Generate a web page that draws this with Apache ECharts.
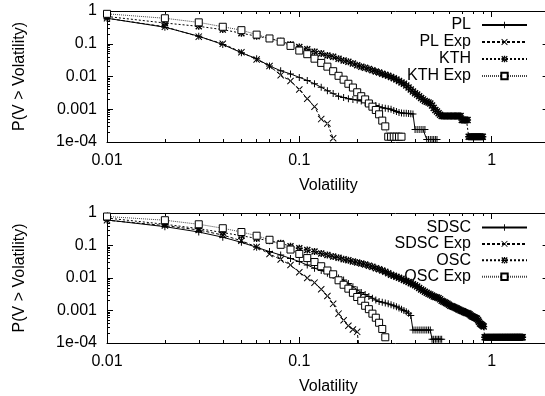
<!DOCTYPE html>
<html><head><meta charset="utf-8">
<script src="https://cdn.jsdelivr.net/npm/echarts@6/dist/echarts.min.js"></script>
<style>html,body{margin:0;padding:0;background:#fff;overflow:hidden;width:545px;height:396px}#c{width:700px;height:396px}</style>
</head><body><div id="c"></div><script>
// ---- data: P(V > volatility) sampled every 0.01 of volatility, starting at 0.01 ----
const STEP = 0.01;
const yTickLabels = ['1e-04', '0.001', '0.01', '0.1', '1'];   // decades 1e-4 .. 1
const xTickLabels = ['0.01', '0.1', '1'];                     // decades 0.01 .. 1
const topNames = ['PL', 'PL Exp', 'KTH', 'KTH Exp'];
const bottomNames = ['SDSC', 'SDSC Exp', 'OSC', 'OSC Exp'];

const plValues = [0.60, 0.32, 0.17, 0.095, 0.053, 0.035, 0.021, 0.015, 0.012, 0.0094,
  0.0076, 0.006, 0.0047, 0.0037, 0.0030, 0.0025, 0.0023, 0.0021, 0.0020, 0.0019,
  0.0018, 0.0016, 0.0015, 0.0014, 0.0013, 0.0012, 0.00112, 0.00108, 0.00104, 0.0010,
  0.00092, 0.00085, 0.0008, 0.00077, 0.00075, 0.00075, 0.00074, 0.00073, 0.00072, 0.00024,
  0.00024, 0.00024, 0.00024, 0.00024, 0.00024, 0.00012, 0.00012, 0.00012, 0.00012, 0.00012,
  0.00012, 0.00012];
const plExpValues = [0.60, 0.33, 0.165, 0.10, 0.055, 0.033, 0.021, 0.011, 0.0073, 0.004,
  0.0021, 0.0012, 0.0005, 0.00037, 0.00013];
const kthValues = [0.68, 0.43, 0.34, 0.27, 0.21, 0.17, 0.145, 0.12, 0.095, 0.08,
  0.068, 0.057, 0.05, 0.044, 0.04, 0.035, 0.031, 0.028, 0.025, 0.022,
  0.020, 0.0185, 0.017, 0.0155, 0.0143, 0.0132, 0.0122, 0.0113, 0.0105, 0.0097,
  0.0089, 0.0081, 0.0073, 0.0066, 0.006, 0.0053, 0.0046, 0.004, 0.0035, 0.0031,
  0.0028, 0.0025, 0.0022, 0.002, 0.0018, 0.0017, 0.0016, 0.0015, 0.0013, 0.0011,
  0.00095, 0.00085, 0.00075, 0.00068, 0.00062, 0.00062, 0.00062, 0.00062, 0.00062, 0.00062,
  0.00062, 0.00062, 0.00062, 0.00062, 0.00062, 0.00062, 0.00062, 0.00062, 0.00062, 0.00047,
  0.00047, 0.00047, 0.00047, 0.00047, 0.00047, 0.000145, 0.000145, 0.000145, 0.000145, 0.000145,
  0.000145, 0.000145, 0.000145, 0.000145, 0.000145, 0.000145, 0.000145, 0.000145, 0.000145, 0.000145];
const kthExpValues = [0.82, 0.60, 0.45, 0.33, 0.26, 0.19, 0.145, 0.116, 0.086, 0.062,
  0.048, 0.035, 0.026, 0.020, 0.0145, 0.0105, 0.008, 0.006, 0.0046, 0.0033,
  0.0025, 0.002, 0.0015, 0.0012, 0.00095, 0.0007, 0.00045, 0.0003, 0.000145, 0.000145,
  0.000145, 0.000145, 0.000145, 0.000145];

const sdscValues = [0.61, 0.38, 0.26, 0.18, 0.125, 0.088, 0.065, 0.051, 0.040, 0.032,
  0.025, 0.020, 0.017, 0.014, 0.012, 0.010, 0.0087, 0.0068, 0.0054, 0.0043,
  0.0036, 0.0031, 0.0027, 0.0024, 0.0021, 0.0019, 0.0018, 0.0017, 0.0016, 0.0015,
  0.0014, 0.0013, 0.0012, 0.0011, 0.001, 0.00092, 0.00082, 0.0007, 0.00025, 0.00025,
  0.00025, 0.00025, 0.00025, 0.00025, 0.00025, 0.00025, 0.00025, 0.00025, 0.00013, 0.00013,
  0.00013, 0.00013, 0.00013, 0.00013, 0.00013];
const sdscExpValues = [0.60, 0.41, 0.30, 0.21, 0.14, 0.09, 0.055, 0.037, 0.025, 0.015,
  0.010, 0.0072, 0.0045, 0.0028, 0.0016, 0.0008, 0.0005, 0.00034, 0.00026, 0.00022,
  0.00002];
const oscValues = [0.70, 0.45, 0.33, 0.25, 0.20, 0.165, 0.14, 0.117, 0.095, 0.082,
  0.073, 0.065, 0.057, 0.051, 0.046, 0.042, 0.038, 0.035, 0.032, 0.030,
  0.028, 0.026, 0.024, 0.022, 0.020, 0.0185, 0.017, 0.0155, 0.014, 0.0125,
  0.0118, 0.011, 0.0102, 0.0094, 0.0087, 0.0081, 0.0075, 0.0069, 0.0064, 0.006,
  0.0055, 0.0049, 0.0044, 0.0041, 0.0038, 0.0035, 0.0033, 0.0031, 0.0029, 0.0027,
  0.0026, 0.0025, 0.0024, 0.0022, 0.002, 0.0019, 0.0018, 0.0017, 0.0016, 0.0015,
  0.0014, 0.00135, 0.0013, 0.00125, 0.0012, 0.00115, 0.0011, 0.00105, 0.001, 0.00097,
  0.00094, 0.0009, 0.00087, 0.00084, 0.00082, 0.0008, 0.00075, 0.0007, 0.00066, 0.00064,
  0.00062, 0.0006, 0.00058, 0.00056, 0.0005, 0.00045, 0.0004, 0.00038, 0.00036, 0.00034,
  0.00032, 0.00015, 0.00015, 0.00015, 0.00015, 0.00015, 0.00015, 0.00015, 0.00015, 0.00015,
  0.00015, 0.00015, 0.00015, 0.00015, 0.00015, 0.00015, 0.00015, 0.00015, 0.00015, 0.00015,
  0.00015, 0.00015, 0.00015, 0.00015, 0.00015, 0.00015, 0.00015, 0.00015, 0.00015, 0.00015,
  0.00015, 0.00015, 0.00015, 0.00015, 0.00015, 0.00015, 0.00015, 0.00015, 0.00015, 0.00015,
  0.00015, 0.00015, 0.00015, 0.00015, 0.00015, 0.00015, 0.00015, 0.00015, 0.00015, 0.00015,
  0.00015, 0.00015, 0.00015, 0.00015, 0.00015];
const oscExpValues = [0.78, 0.60, 0.45, 0.34, 0.26, 0.20, 0.15, 0.105, 0.075, 0.055,
  0.041, 0.031, 0.023, 0.017, 0.013, 0.0085, 0.0062, 0.0047, 0.0035, 0.0026,
  0.002, 0.0014, 0.0011, 0.0008, 0.0006, 0.00042, 0.00027, 0.00015];

// ---- presentation ----
const FONT = '"Liberation Sans", Arial, Helvetica, sans-serif';
const PLUS = 'path://M0,4.3H10V5.7H0Z M4.3,0H5.7V10H4.3Z';
const CROSS = 'path://M0,1L1,0L10,9L9,10Z M10,1L9,0L0,9L1,10Z';
const STAR = 'path://M0,4H10V6H0Z M4,0H6V10H4Z M0,1.4L1.4,0L10,8.6L8.6,10Z M10,1.4L8.6,0L0,8.6L1.4,10Z';
const GRID_W = 576.9;          // plot box continues past the window's right edge
const RIGHT_BORDER_SHIFT = -134.3;

function toPoints(values) {
  return values.map((p, i) => [Number(((i + 1) * STEP).toFixed(2)), p]);
}
function decadeLabel(v, labels, minExp) {
  const l = Math.log10(v), e = Math.round(l);
  if (Math.abs(l - e) > 1e-6) return '';
  return labels[e - minExp] || '';
}
const txt = { fontSize: 16, color: '#000', fontFamily: FONT };
const tickLine = { color: '#000', width: 1 };

function xAxes(g) {
  const base = {
    type: 'log', logBase: 10, gridIndex: g, min: 0.01, max: 10,
    axisLine: { show: true, lineStyle: tickLine },
    axisTick: { show: true, inside: true, length: 6, lineStyle: tickLine },
    minorTick: { show: true, splitNumber: 9, length: 3, lineStyle: tickLine },
    splitLine: { show: false }, minorSplitLine: { show: false }
  };
  return [
    Object.assign({}, base, {
      position: 'bottom',
      axisLabel: Object.assign({ margin: 11, formatter: v => decadeLabel(v, xTickLabels, -2) }, txt),
      name: 'Volatility', nameLocation: 'middle', nameGap: 36,
      nameTextStyle: Object.assign({ padding: [0, 134.3, 0, 0] }, txt)
    }),
    Object.assign({}, base, { position: 'top', axisLabel: { show: false } })
  ];
}
function yAxes(g) {
  const base = {
    type: 'log', logBase: 10, gridIndex: g, min: 0.0001, max: 1,
    axisLine: { show: true, lineStyle: tickLine },
    axisTick: { show: true, inside: true, length: 6, lineStyle: tickLine },
    minorTick: { show: true, splitNumber: 9, length: 3, lineStyle: tickLine },
    splitLine: { show: false }, minorSplitLine: { show: false }
  };
  return [
    Object.assign({}, base, {
      position: 'left',
      axisLabel: Object.assign({ margin: 10, formatter: v => decadeLabel(v, yTickLabels, -4) }, txt),
      name: 'P(V > Volatility)', nameLocation: 'middle', nameGap: 79, nameTextStyle: txt
    }),
    Object.assign({}, base, {
      position: 'right', offset: RIGHT_BORDER_SHIFT, axisLabel: { show: false },
      axisTick: { show: true, inside: true, length: 7, lineStyle: tickLine }
    })
  ];
}

const styles = [
  { symbol: PLUS, symbolSize: 7, line: { type: 'solid', color: '#000' }, item: { color: '#000', borderWidth: 0 } },
  { symbol: CROSS, symbolSize: 7, line: { type: [3, 2], color: '#000' }, item: { color: '#000', borderWidth: 0 } },
  { symbol: STAR, symbolSize: 7, line: { type: [2, 2], color: '#000' }, item: { color: '#000', borderWidth: 0 } },
  { symbol: 'rect', symbolSize: 7, line: { type: [1, 1], color: '#444' }, item: { color: '#fff', borderColor: '#000', borderWidth: 1 } }
];

function makeSeries(names, valueLists, axisIdx) {
  return names.map((name, i) => ({
    type: 'line', name: name, xAxisIndex: axisIdx, yAxisIndex: axisIdx,
    data: toPoints(valueLists[i]),
    symbol: styles[i].symbol, symbolSize: styles[i].symbolSize, showAllSymbol: true,
    lineStyle: Object.assign({ width: 1 }, styles[i].line),
    itemStyle: styles[i].item,
    clip: true, silent: true, animation: false, z: 2 + i
  }));
}

function legend(names, top, gap) {
  return {
    data: names, orient: 'vertical', align: 'right', right: 700 - 528, top: top,
    itemWidth: 45, itemHeight: 8, itemGap: gap, padding: 0, selectedMode: false,
    textStyle: Object.assign({ padding: [0, 6, 0, 0], lineHeight: 16 }, txt)
  };
}

const chart = echarts.init(document.getElementById('c'), null, { renderer: 'canvas' });
chart.setOption({
  animation: false,
  backgroundColor: '#fff',
  grid: [
    { left: 107, top: 11, height: 131, width: GRID_W },
    { left: 107, top: 213, height: 130, width: GRID_W }
  ],
  xAxis: xAxes(0).concat(xAxes(1)),
  yAxis: yAxes(0).concat(yAxes(1)),
  legend: [legend(topNames, 17, 1), legend(bottomNames, 219.5, 0.4)],
  series: makeSeries(topNames, [plValues, plExpValues, kthValues, kthExpValues], 0)
    .concat(makeSeries(bottomNames, [sdscValues, sdscExpValues, oscValues, oscExpValues], 2))
});
</script></body></html>
